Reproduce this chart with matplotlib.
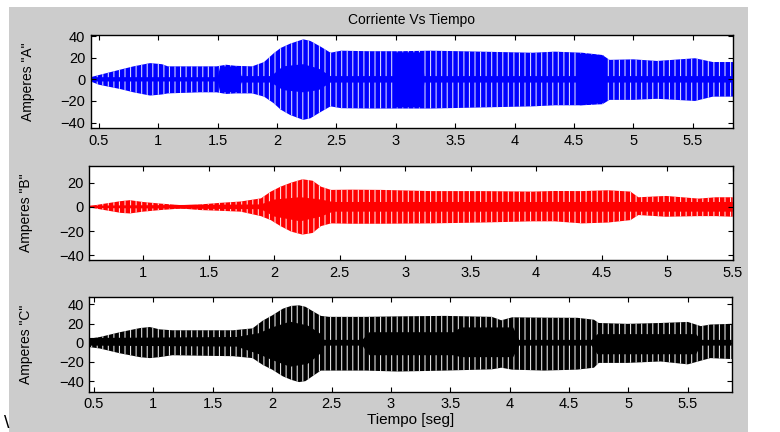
import numpy as np
import matplotlib
matplotlib.use('Agg')
import matplotlib.pyplot as plt
from matplotlib.patches import Rectangle

plt.rcParams['font.family'] = ['Liberation Sans', 'DejaVu Sans']
plt.rcParams['hatch.linewidth'] = 0.8

# envelope of phase A current (upper / lower peaks)
tA = [0.43, 0.5, 0.68, 0.79, 0.93, 1.03, 1.08, 1.35, 1.49, 1.57, 1.65, 1.79, 1.89,
      1.97, 2.03, 2.11, 2.22, 2.28, 2.37, 2.45, 2.54, 2.77, 3.04, 3.30, 3.72, 4.15,
      4.34, 4.57, 4.74, 4.80, 5.0, 5.2, 5.52, 5.67, 5.84]
hiA = [2, 4, 9, 12, 15, 14, 12, 12, 12, 13.5, 12.5, 12, 16, 24, 29, 33, 37, 35.5,
       30, 24.6, 26.5, 26, 26, 26.5, 25.6, 24.6, 25.6, 24.6, 22.5, 18, 18.5, 17,
       19.5, 16, 16]
loA = [-2, -5, -9, -12, -15, -14, -13, -12, -12, -13.5, -13, -13, -16, -22, -28,
       -33, -37.5, -36, -30, -25, -26.7, -27, -27, -27, -26, -25, -24, -24, -23,
       -19, -19, -18, -20, -16, -16]
# dense (solid) band around zero
ctA = [0.43, 1.50, 1.52, 1.68, 1.70, 1.95, 2.05, 2.22, 2.35, 2.45, 2.98, 3.00, 3.22,
       3.24, 4.53, 4.55, 4.75, 4.77, 5.84]
chA = [2, 2, 12, 12, 3, 3, 12, 14, 10, 3, 3, 25, 25, 3, 3, 24, 22, 3, 3]
clA = [-2, -2, -12, -12, -3, -3, -10, -12, -10, -3, -3, -26, -26, -3, -3, -24, -22, -3, -3]

# phase B
tB = [0.59, 0.67, 0.83, 0.90, 1.0, 1.13, 1.29, 1.44, 1.59, 1.745, 1.9, 1.975, 2.05,
      2.13, 2.217, 2.294, 2.357, 2.434, 2.587, 2.82, 3.2, 3.58, 3.97, 4.14, 4.35,
      4.55, 4.72, 4.78, 4.99, 5.24, 5.37, 5.5]
hiB = [0.5, 2, 4.7, 5.5, 4, 2.7, 1.4, 2, 3.3, 4.4, 7, 12.6, 16.7, 20, 22.8, 21.6,
       16.7, 14, 14.2, 14, 13, 13, 12.6, 13.1, 13, 13.7, 12.6, 7.9, 9, 6.8, 7.9, 7.9]
loB = [-0.5, -2, -5, -5.5, -4, -2.7, -1.4, -2.7, -3.3, -4, -7.7, -11, -16, -20.5,
       -23, -21.6, -16, -13.7, -14, -14, -13.7, -13, -12, -12, -13.7, -13, -11,
       -6.8, -8.2, -7.7, -7.7, -8.2]
ctB = [0.59, 1.9, 2.0, 2.2, 2.36, 2.45, 5.5]
chB = [1, 2, 6, 8, 6, 4, 4]
clB = [-1, -2, -8, -12, -8, -4, -4]

# phase C
tC = [0.46, 0.55, 0.718, 0.886, 0.97, 1.05, 1.16, 1.39, 1.67, 1.835, 1.92, 2.0,
      2.09, 2.16, 2.227, 2.28, 2.35, 2.41, 2.48, 2.786, 3.06, 3.455, 3.85, 3.93,
      4.02, 4.29, 4.57, 4.71, 4.75, 4.99, 5.27, 5.5, 5.61, 5.69, 5.87]
hiC = [4.2, 6, 11, 15.3, 16.4, 14, 13, 13, 13, 15, 23, 28.5, 35.5, 38.4, 39, 37.5,
       32.3, 28, 27, 27, 27.5, 28, 27, 23.4, 26.5, 26.2, 26, 24, 20.6, 19.7, 20.6,
       21.7, 17.3, 19, 19.7]
loC = [-4.5, -6, -11, -15, -16, -15, -13, -13.5, -14, -16, -23, -28, -35, -38.6,
       -41, -40, -34, -29, -29, -29, -30, -29, -27.7, -26, -28, -29, -28, -26, -21,
       -21, -19.5, -22.5, -18.7, -16, -17]
ctC = [0.46, 1.70, 1.89, 2.0, 2.15, 2.3, 2.40, 2.44, 2.76, 2.82, 3.53, 3.59, 4.03,
       4.08, 4.69, 4.74, 5.57, 5.61, 5.87]
chC = [5, 6, 10, 16, 22, 18, 10, 3, 3, 11, 11, 16, 16, 3, 3, 9, 9, 3, 3]
clC = [-3, -4, -12, -18, -25, -22, -12, -3, -3, -13, -13, -15, -15, -3, -3, -12, -12, -3, -3]

fig = plt.figure(figsize=(7.8, 4.32), dpi=100, facecolor='white')
fig.patches.append(Rectangle((9 / 780, 0), (748 - 9) / 780, 425 / 432,
                             transform=fig.transFigure, facecolor='#cccccc',
                             edgecolor='none', zorder=-10))

panels = [
    ([0.1163, 0.7037, 0.8235, 0.2153], tA, hiA, loA, ctA, chA, clA, 'blue', '#d0d0ff',
     (0.43, 5.84), (-45, 41), [-40, -20, 0, 20, 40],
     [0.5, 1, 1.5, 2, 2.5, 3, 3.5, 4, 4.5, 5, 5.5], 'Amperes "A"'),
    ([0.1145, 0.3981, 0.8249, 0.2183], tB, hiB, loB, ctB, chB, clB, 'red', '#ffd6d6',
     (0.59, 5.5), (-44, 34), [-40, -20, 0, 20],
     [1, 1.5, 2, 2.5, 3, 3.5, 4, 4.5, 5, 5.5], 'Amperes "B"'),
    ([0.1145, 0.0933, 0.8236, 0.2199], tC, hiC, loC, ctC, chC, clC, 'black', '#e0e0e0',
     (0.46, 5.87), (-51, 48), [-40, -20, 0, 20, 40],
     [0.5, 1, 1.5, 2, 2.5, 3, 3.5, 4, 4.5, 5, 5.5], 'Amperes "C"'),
]

axes = []
for pos, t, hi, lo, ct, ch, cl, col, gap, xl, yl, yt, xt, lab in panels:
    ax = fig.add_axes(pos)
    ax.fill_between(t, lo, hi, facecolor=col, edgecolor=gap, hatch='|||',
                    linewidth=0)
    ax.fill_between(ct, cl, ch, facecolor=col, edgecolor='none', linewidth=0)
    ax.set_xlim(*xl)
    ax.set_ylim(*yl)
    ax.set_yticks(yt)
    ax.set_xticks(xt)
    ax.set_xticklabels(['%g' % v for v in xt])
    ax.tick_params(direction='in', top=True, right=True, length=3.5,
                   labelsize=10.5, colors='black', pad=4)
    ax.set_ylabel(lab, fontsize=10)
    ax.yaxis.set_label_coords(-0.087, 0.5)
    for s in ax.spines.values():
        s.set_linewidth(1.0)
    axes.append(ax)

axes[0].set_title('Corriente Vs Tiempo', fontsize=10, pad=8)
axes[2].set_xlabel('Tiempo [seg]', fontsize=11, labelpad=1)
fig.text(4 / 780, 0, '\\', fontsize=14, ha='left', va='bottom')

fig.savefig('out.png', dpi=100, facecolor=fig.get_facecolor())
